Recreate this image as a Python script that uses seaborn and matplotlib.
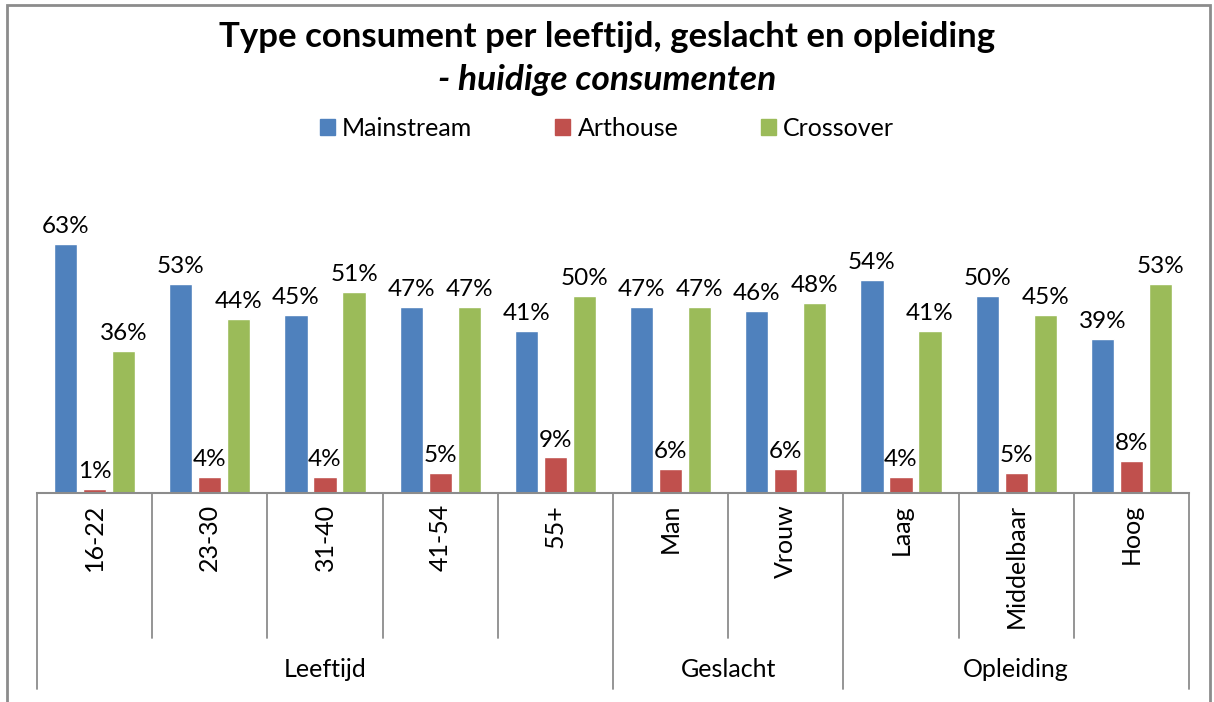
# Type consument per leeftijd, geslacht en opleiding - grouped bar chart
import pandas as pd
import matplotlib.pyplot as plt
import seaborn as sns
from matplotlib.patches import Rectangle
from matplotlib.lines import Line2D

categories = ['16-22', '23-30', '31-40', '41-54', '55+', 'Man', 'Vrouw',
              'Laag', 'Middelbaar', 'Hoog']
groups = ['Leeftijd', 'Geslacht', 'Opleiding']
group_sizes = [5, 2, 3]
types = ['Mainstream', 'Arthouse', 'Crossover']
mainstream = [0.63, 0.53, 0.45, 0.47, 0.41, 0.47, 0.46, 0.54, 0.50, 0.39]
arthouse = [0.01, 0.04, 0.04, 0.05, 0.09, 0.06, 0.06, 0.04, 0.05, 0.08]
crossover = [0.36, 0.44, 0.51, 0.47, 0.50, 0.47, 0.48, 0.41, 0.45, 0.53]
colors = ['#4F81BD', '#C0504D', '#9BBB59']

df = pd.DataFrame({
    'Categorie': categories * 3,
    'Type': [t for t in types for _ in categories],
    'Aandeel': mainstream + arthouse + crossover,
})

sns.set_style('white')
plt.rcParams['font.family'] = ['Lato', 'DejaVu Sans']
plt.rcParams['text.color'] = 'black'

fig = plt.figure(figsize=(12.14, 7.02), dpi=100)
ax = fig.add_axes([37 / 1214, 1 - 493 / 702, (1189 - 37) / 1214, 316 / 702])

sns.barplot(data=df, x='Categorie', y='Aandeel', hue='Type', order=categories,
            hue_order=types, palette=colors, width=0.757, gap=0.2,
            ax=ax, legend=False, saturation=1)

ax.set_ylim(0, 0.80)
ax.set_xlim(-0.5, len(categories) - 0.5)
ax.set_xlabel('')
ax.set_ylabel('')
ax.set_yticks([])
ax.set_xticks([])
for s in ['left', 'right', 'top']:
    ax.spines[s].set_visible(False)
ax.spines['bottom'].set_color('#8c8c8c')
ax.spines['bottom'].set_linewidth(1.5)

# data labels
for cont in ax.containers:
    ax.bar_label(cont, labels=[f'{v * 100:.0f}%' for v in cont.datavalues],
                 padding=5, fontsize=17.5, color='black')

# category labels (rotated) and separators
trans = ax.get_xaxis_transform()
for i, c in enumerate(categories):
    ax.text(i, -0.035, c, rotation=90, ha='center', va='top', fontsize=18,
            transform=trans, color='black')

bounds = [-0.5]
for n in group_sizes:
    bounds.append(bounds[-1] + n)
for i in range(len(categories) + 1):
    x = i - 0.5
    ymin = -0.62 if x in bounds else -0.458
    ax.add_line(Line2D([x, x], [0, ymin], transform=trans, color='#8c8c8c',
                       lw=1.3, clip_on=False))

for g, lo, hi in zip(groups, bounds[:-1], bounds[1:]):
    ax.text((lo + hi) / 2, -0.56, g, ha='center', va='center', fontsize=18,
            transform=trans, color='black')

# title and legend
fig.text(0.5, 1 - 37 / 702, 'Type consument per leeftijd, geslacht en opleiding',
         ha='center', va='center', fontsize=25, fontweight='bold')
fig.text(0.5, 1 - 80 / 702, '- huidige consumenten', ha='center', va='center',
         fontsize=25.5, fontweight='bold', fontstyle='italic')

handles = [Rectangle((0, 0), 1, 1, color=c) for c in colors]
leg = fig.legend(handles, types, loc='center', bbox_to_anchor=(0.5, 1 - 128 / 702),
                 ncol=3, frameon=False, fontsize=18, handlelength=0.6,
                 handleheight=0.6, handletextpad=0.3, columnspacing=3.3)
for t in leg.get_texts():
    t.set_color('black')

# outer chart border
fig.add_artist(Rectangle((7 / 1214, -0.05), 1203 / 1214, 1.05 - 5 / 702,
                         transform=fig.transFigure, fill=False,
                         edgecolor='#8c8c8c', lw=2))

fig.savefig('out.png', dpi=100)
